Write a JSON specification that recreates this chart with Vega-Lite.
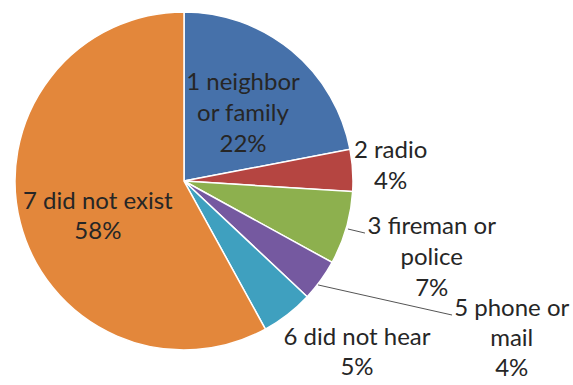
{
  "$schema": "https://vega.github.io/schema/vega-lite/v6.json",
  "width": 338,
  "height": 338,
  "autosize": "none",
  "padding": {"left": 15, "top": 12, "right": 220, "bottom": 35},
  "background": "white",
  "config": {"view": {"stroke": null}},
  "data": {
    "values": [
      {"id": 1, "category": "1 neighbor or family", "label": "1 neighbor\nor family\n22%", "pct": 22},
      {"id": 2, "category": "2 radio", "label": "2 radio\n4%", "pct": 4},
      {"id": 3, "category": "3 fireman or police", "label": "3 fireman or\npolice\n7%", "pct": 7},
      {"id": 5, "category": "5 phone or mail", "label": "5 phone or\nmail\n4%", "pct": 4},
      {"id": 6, "category": "6 did not hear", "label": "6 did not hear\n5%", "pct": 5},
      {"id": 7, "category": "7 did not exist", "label": "7 did not exist\n58%", "pct": 58}
    ]
  },
  "encoding": {
    "theta": {"field": "pct", "type": "quantitative", "stack": true},
    "order": {"field": "id", "type": "quantitative"}
  },
  "layer": [
    {
      "mark": {"type": "arc", "stroke": "white", "strokeWidth": 1.5},
      "encoding": {
        "color": {
          "field": "category",
          "type": "nominal",
          "legend": null,
          "scale": {
            "domain": ["1 neighbor or family", "2 radio", "3 fireman or police", "5 phone or mail", "6 did not hear", "7 did not exist"],
            "range": ["#4671AA", "#B54541", "#8DB04E", "#7559A0", "#3FA0BF", "#E3873B"]
          }
        }
      }
    },
    {
      "mark": {"type": "text", "font": "Lato", "fontSize": 24, "lineHeight": 31, "lineBreak": "\n", "color": "#262626", "align": "center", "baseline": "middle", "dx": 1, "dy": -28},
      "encoding": {
        "radius": {"value": 91},
        "text": {"condition": {"test": "datum.id === 1", "field": "label"}, "value": ""}
      }
    },
    {
      "mark": {"type": "text", "font": "Lato", "fontSize": 24, "lineHeight": 31, "lineBreak": "\n", "color": "#262626", "align": "center", "baseline": "middle", "dx": 0, "dy": -17},
      "encoding": {
        "radius": {"value": 207},
        "text": {"condition": {"test": "datum.id === 2", "field": "label"}, "value": ""}
      }
    },
    {
      "mark": {"type": "text", "font": "Lato", "fontSize": 24, "lineHeight": 31, "lineBreak": "\n", "color": "#262626", "align": "center", "baseline": "middle", "dx": 0, "dy": -26},
      "encoding": {
        "radius": {"value": 258},
        "text": {"condition": {"test": "datum.id === 3", "field": "label"}, "value": ""}
      }
    },
    {
      "mark": {"type": "text", "font": "Lato", "fontSize": 24, "lineHeight": 30, "lineBreak": "\n", "color": "#262626", "align": "center", "baseline": "middle", "dx": 85, "dy": -48},
      "encoding": {
        "radius": {"value": 300},
        "text": {"condition": {"test": "datum.id === 5", "field": "label"}, "value": ""}
      }
    },
    {
      "mark": {"type": "text", "font": "Lato", "fontSize": 24, "lineHeight": 30, "lineBreak": "\n", "color": "#262626", "align": "center", "baseline": "middle", "dx": 32, "dy": -25},
      "encoding": {
        "radius": {"value": 230},
        "text": {"condition": {"test": "datum.id === 6", "field": "label"}, "value": ""}
      }
    },
    {
      "mark": {"type": "text", "font": "Lato", "fontSize": 24, "lineHeight": 30, "lineBreak": "\n", "color": "#262626", "align": "center", "baseline": "middle", "dx": 1, "dy": -1},
      "encoding": {
        "radius": {"value": 90},
        "text": {"condition": {"test": "datum.id === 7", "field": "label"}, "value": ""}
      }
    },
    {
      "data": {
        "values": [
          {"leader": "3 fireman or police", "x": 0.97, "y": -0.284, "x2": 1.071, "y2": -0.308},
          {"leader": "5 phone or mail", "x": 0.793, "y": -0.615, "x2": 1.586, "y2": -0.793}
        ]
      },
      "mark": {"type": "rule", "color": "#555555", "strokeWidth": 1},
      "encoding": {
        "theta": null,
        "order": null,
        "x": {"field": "x", "type": "quantitative", "scale": {"domain": [-1, 1], "nice": false, "zero": false}, "axis": null},
        "y": {"field": "y", "type": "quantitative", "scale": {"domain": [-1, 1], "nice": false, "zero": false}, "axis": null},
        "x2": {"field": "x2"},
        "y2": {"field": "y2"}
      }
    }
  ]
}
